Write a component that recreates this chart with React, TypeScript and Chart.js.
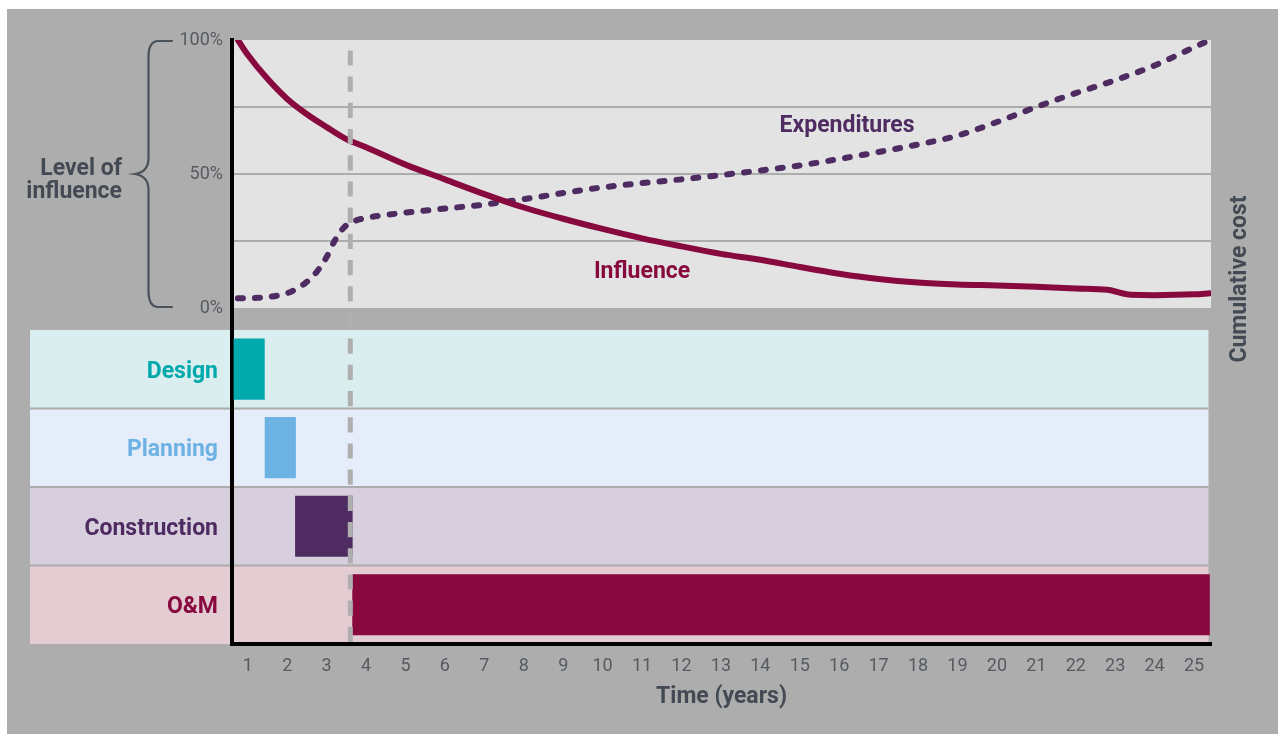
import React, { useEffect, useRef } from 'react';
import { Chart, registerables } from 'chart.js';

Chart.register(...registerables);

// Year ticks along the time axis
const YEARS = [1, 2, 3, 4, 5, 6, 7, 8, 9, 10, 11, 12, 13, 14, 15, 16, 17, 18, 19, 20, 21, 22, 23, 24, 25];

// Level of influence over the project's life (%)
const INFLUENCE_YEARS = [0.75, 1, 1.5, 2, 2.5, 3, 3.5, 4, 5, 6, 7, 8, 9, 10, 11, 12, 13, 14, 15, 16, 17, 18, 19, 20, 21, 22, 22.8, 23.4, 24, 25, 25.4];
const INFLUENCE = [100, 94.5, 85.5, 78, 72.3, 67.5, 63, 60, 53.5, 48, 42.5, 37.5, 33.3, 29.5, 26, 23, 20.2, 18, 15.3, 12.8, 10.8, 9.5, 8.8, 8.4, 7.9, 7.3, 6.8, 4.9, 4.8, 5.1, 5.5];

// Cumulative expenditures (%)
const EXPENDITURE_YEARS = [0.75, 1.25, 1.75, 2.1, 2.45, 2.75, 3, 3.2, 3.45, 3.7, 4, 4.5, 5, 6, 7, 8, 9, 10, 11, 12, 13, 14, 15, 16, 17, 18, 19, 20, 21, 22, 23, 24, 25, 25.4];
const EXPENDITURES = [3.6, 3.8, 4.6, 6.1, 9.2, 13.5, 19, 25, 30.2, 32.4, 33.6, 34.7, 35.6, 37.1, 38.6, 40.6, 42.9, 45, 46.6, 48, 49.6, 51.3, 53.2, 55.6, 58.2, 61, 64.3, 69.4, 75, 80.2, 85, 90.5, 97.3, 100];

const PERCENT_TICKS = [0, 25, 50, 75, 100];
const PERCENT_LABELS = [0, 50, 100];

// Project phases (years)
const PHASES = ['Design', 'Planning', 'Construction', 'O&M'];
const PHASE_START = [0.64, 1.43, 2.2, 3.65];
const PHASE_END = [1.43, 2.22, 3.66, 25.4];
const PHASE_COLORS = ['#00a9ac', '#6cb2e2', '#4e2b61', '#87093e'];
const PHASE_ROW_COLORS = ['#daedef', '#e6edfa', '#d7cede', '#e4ccd3'];

// Start of operations, marked with a dashed rule
const OPERATIONS_START_YEAR = 3.6;

// Series captions, anchored in data units [year, %]
const EXPENDITURES_CAPTION_AT = [16.2, 65.7];
const INFLUENCE_CAPTION_AT = [11.0, 11.1];

const FRAME_BG = '#adadad';
const PLOT_BG = '#e3e3e3';
const GRID = '#acacac';
const TEXT_DARK = '#434a53';
const TICK_TEXT = '#565b62';
const INFLUENCE_COLOR = '#87093e';
const EXPENDITURE_COLOR = '#4e2b61';
const BOLD = 'bold 23px Roboto';

const decorations = {
  id: 'decorations',
  beforeDraw(chart: any) {
    const { ctx, chartArea: area, scales } = chart;
    const pct = scales.y;
    const rows = scales.yPhase;
    ctx.save();
    ctx.fillStyle = PLOT_BG;
    ctx.fillRect(area.left, pct.top, area.right - area.left, pct.bottom - pct.top);
    const left = area.left - 202;
    const right = area.right - 2.5;
    PHASES.forEach((_, i) => {
      const top = rows.getPixelForValue(i);
      const bottom = rows.getPixelForValue(i + 1);
      ctx.fillStyle = PHASE_ROW_COLORS[i];
      ctx.fillRect(left, top, right - left, bottom - top);
      if (i > 0) {
        ctx.fillStyle = GRID;
        ctx.fillRect(left, top - 1, right - left, 2);
      }
    });
    ctx.restore();
  },
  afterDatasetsDraw(chart: any) {
    const { ctx, chartArea: area, scales } = chart;
    const x = scales.x.getPixelForValue(OPERATIONS_START_YEAR);
    ctx.save();
    ctx.strokeStyle = '#afafaf';
    ctx.lineWidth = 5;
    ctx.setLineDash([15.2, 11]);
    ctx.lineDashOffset = 15.8;
    ctx.beginPath();
    ctx.moveTo(x, area.top);
    ctx.lineTo(x, area.bottom - 2);
    ctx.stroke();
    ctx.setLineDash([]);

    ctx.font = BOLD;
    ctx.textAlign = 'center';
    ctx.textBaseline = 'alphabetic';
    ctx.fillStyle = EXPENDITURE_COLOR;
    ctx.fillText('Expenditures', scales.x.getPixelForValue(EXPENDITURES_CAPTION_AT[0]), scales.y.getPixelForValue(EXPENDITURES_CAPTION_AT[1]));
    ctx.fillStyle = INFLUENCE_COLOR;
    ctx.fillText('Influence', scales.x.getPixelForValue(INFLUENCE_CAPTION_AT[0]), scales.y.getPixelForValue(INFLUENCE_CAPTION_AT[1]));
    ctx.restore();
  },
  afterDraw(chart: any) {
    const { ctx, chartArea: area, scales } = chart;
    const pct = scales.y;
    const mid = pct.getPixelForValue(50);
    const top = pct.top + 1;
    const bottom = pct.bottom - 1;
    const spine = area.left - 83.5;
    const tip = area.left - 97;
    const hook = area.left - 60;
    ctx.save();
    // curly brace spanning the influence scale
    ctx.strokeStyle = '#4a5159';
    ctx.lineWidth = 2.2;
    ctx.lineCap = 'round';
    ctx.beginPath();
    ctx.moveTo(hook, top);
    ctx.lineTo(spine + 10, top);
    ctx.quadraticCurveTo(spine, top, spine, top + 16);
    ctx.lineTo(spine, mid - 16);
    ctx.quadraticCurveTo(spine, mid - 2, tip, mid);
    ctx.quadraticCurveTo(spine, mid + 2, spine, mid + 16);
    ctx.lineTo(spine, bottom - 16);
    ctx.quadraticCurveTo(spine, bottom, spine + 10, bottom);
    ctx.lineTo(hook, bottom);
    ctx.stroke();

    ctx.font = BOLD;
    ctx.fillStyle = TEXT_DARK;
    ctx.textAlign = 'right';
    ctx.textBaseline = 'alphabetic';
    ctx.fillText('Level of', area.left - 110, mid + 1);
    ctx.fillText('influence', area.left - 110, mid + 24);

    ctx.translate(area.right + 29, area.top + 239);
    ctx.rotate(-Math.PI / 2);
    ctx.textAlign = 'center';
    ctx.textBaseline = 'middle';
    ctx.fillText('Cumulative cost', 0, 0);
    ctx.restore();
  },
};

export default function App() {
  const canvasRef = useRef<HTMLCanvasElement | null>(null);

  useEffect(() => {
    const canvas = canvasRef.current;
    if (!canvas) return;
    Chart.defaults.font.family = 'Roboto';

    const influencePoints = INFLUENCE_YEARS.map((x, i) => ({ x, y: INFLUENCE[i] }));
    const expenditurePoints = EXPENDITURE_YEARS.map((x, i) => ({ x, y: EXPENDITURES[i] }));
    const phaseBars = PHASES.map((_, i) => ({ y: i + 0.5, x: [PHASE_START[i], PHASE_END[i]] }));

    const chart = new Chart(canvas, {
      type: 'line',
      data: {
        datasets: [
          {
            type: 'line',
            label: 'Influence',
            data: influencePoints,
            xAxisID: 'x',
            yAxisID: 'y',
            borderColor: INFLUENCE_COLOR,
            borderWidth: 6,
            borderCapStyle: 'round',
            cubicInterpolationMode: 'monotone',
            pointRadius: 0,
            fill: false,
          },
          {
            type: 'line',
            label: 'Expenditures',
            data: expenditurePoints,
            xAxisID: 'x',
            yAxisID: 'y',
            borderColor: EXPENDITURE_COLOR,
            borderWidth: 6,
            borderDash: [5, 12],
            borderCapStyle: 'round',
            cubicInterpolationMode: 'monotone',
            pointRadius: 0,
            fill: false,
          },
          {
            type: 'bar',
            label: 'Phases',
            indexAxis: 'y',
            data: phaseBars as any,
            xAxisID: 'x',
            yAxisID: 'yPhase',
            backgroundColor: PHASE_COLORS,
            borderWidth: 0,
            barPercentage: 0.78,
            categoryPercentage: 1,
          } as any,
        ],
      },
      options: {
        responsive: false,
        animation: false,
        layout: { padding: { left: 0, top: 31, right: 67, bottom: 0 } },
        plugins: { legend: { display: false }, tooltip: { enabled: false } },
        scales: {
          x: {
            type: 'linear',
            position: 'bottom',
            min: 0.6,
            max: 25.43,
            offset: false,
            afterBuildTicks: (s: any) => {
              s.ticks = YEARS.map((v) => ({ value: v }));
            },
            afterFit: (s: any) => {
              s.height = 90;
            },
            grid: { display: false, drawTicks: false },
            border: { display: true, color: '#000', width: 4 },
            ticks: {
              autoSkip: false,
              maxRotation: 0,
              padding: 12,
              color: TICK_TEXT,
              font: { family: 'Roboto', size: 18 },
            },
            title: {
              display: true,
              text: 'Time (years)',
              color: TEXT_DARK,
              font: { family: 'Roboto', size: 23, weight: 'bold' },
              padding: { top: 0, bottom: 23 },
            },
          },
          y: {
            type: 'linear',
            position: 'left',
            stack: 'rows',
            stackWeight: 268,
            weight: 2,
            min: 0,
            max: 100,
            offset: false,
            afterBuildTicks: (s: any) => {
              s.ticks = PERCENT_TICKS.map((v) => ({ value: v }));
            },
            afterFit: (s: any) => {
              s.width = 225;
            },
            grid: {
              drawTicks: false,
              lineWidth: 2,
              color: (c: any) => (c.tick && c.tick.value > 0 && c.tick.value < 100 ? GRID : 'rgba(0,0,0,0)'),
            },
            border: { display: true, color: '#000', width: 4 },
            ticks: {
              padding: 9,
              color: TICK_TEXT,
              font: { family: 'Roboto', size: 18 },
              callback: (v: any) => (PERCENT_LABELS.includes(Number(v)) ? `${v}%` : ''),
            },
          },
          yPhase: {
            type: 'linear',
            position: 'left',
            stack: 'rows',
            stackWeight: 336,
            weight: 1,
            min: -0.28,
            max: 4,
            reverse: true,
            offset: false,
            afterBuildTicks: (s: any) => {
              s.ticks = PHASES.map((_, i) => ({ value: i + 0.5 }));
            },
            afterFit: (s: any) => {
              s.width = 225;
            },
            grid: { display: false, drawTicks: false, offset: false },
            border: { display: true, color: '#000', width: 4 },
            ticks: {
              autoSkip: false,
              padding: 14,
              labelOffset: 3,
              color: (c: any) => PHASE_COLORS[c.index],
              font: { family: 'Roboto', size: 23, weight: 'bold' },
              callback: (_v: any, i: number) => PHASES[i],
            },
          },
        } as any,
      },
      plugins: [decorations],
    });

    return () => chart.destroy();
  }, []);

  return (
    <div
      style={{
        position: 'absolute',
        left: 7,
        top: 9,
        width: 1271,
        height: 725,
        background: FRAME_BG,
      }}
    >
      <canvas ref={canvasRef} width={1271} height={725} style={{ display: 'block' }} />
    </div>
  );
}
